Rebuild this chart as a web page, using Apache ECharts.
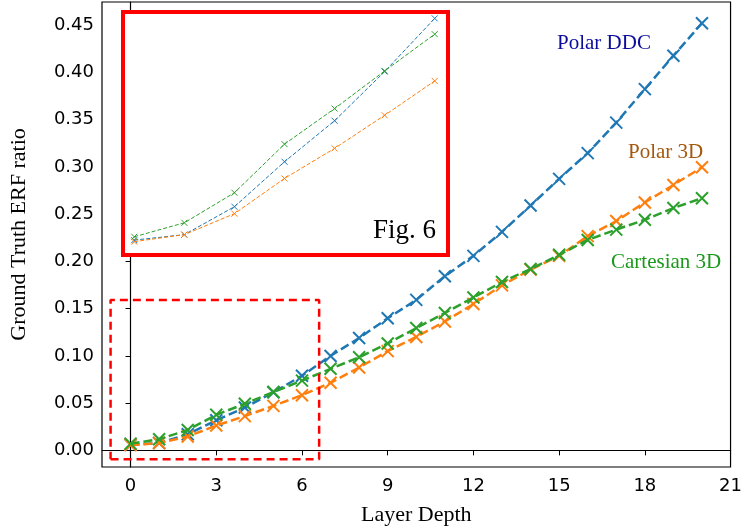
<!DOCTYPE html>
<html>
<head>
<meta charset="utf-8">
<script src="https://cdn.jsdelivr.net/npm/echarts@6/dist/echarts.min.js"></script>
<style>
  html, body { margin: 0; padding: 0; background: #fff; }
  #chart { width: 745px; height: 531px; }
</style>
</head>
<body>
<div id="chart"></div>
<script>
var layers = [0, 1, 2, 3, 4, 5, 6, 7, 8, 9, 10, 11, 12, 13, 14, 15, 16, 17, 18, 19, 20];
var polarDDC = [0.0060, 0.0078, 0.0170, 0.0318, 0.0453, 0.0615, 0.0790, 0.0999, 0.1189, 0.1398,
  0.1592, 0.1843, 0.2058, 0.2312, 0.2590, 0.2873, 0.3145, 0.3468, 0.3822, 0.4176, 0.4520];
var polar3D = [0.0055, 0.0078, 0.0147, 0.0263, 0.0362, 0.0471, 0.0584, 0.0715, 0.0877, 0.1050,
  0.1200, 0.1364, 0.1548, 0.1746, 0.1912, 0.2058, 0.2267, 0.2426, 0.2623, 0.2808, 0.2996];
var cartesian3D = [0.0071, 0.0117, 0.0216, 0.0376, 0.0493, 0.0617, 0.0738, 0.0863, 0.0985, 0.1131,
  0.1294, 0.1454, 0.1617, 0.1781, 0.1919, 0.2069, 0.2226, 0.2336, 0.2440, 0.2564, 0.2668];
var xTicks = [0, 3, 6, 9, 12, 15, 18, 21];
var yTicks = [0, 0.05, 0.1, 0.15, 0.2, 0.25, 0.3, 0.35, 0.4, 0.45];
var insetCount = 7;   // layers 0..6 shown in the inset
var zoomBox = [[-0.7, -0.0094], [6.6, -0.0094], [6.6, 0.159], [-0.7, 0.159], [-0.7, -0.0094]];

var colors = ['#1f77b4', '#ff7f0e', '#2ca02c'];
var names = ['Polar DDC', 'Polar 3D', 'Cartesian 3D'];
var values = [polarDDC, polar3D, cartesian3D];
var cross = 'path://M0 0L10 10M10 0L0 10';
var serif = '"Liberation Serif", "DejaVu Serif", serif';

function pairs(arr, n) {
  var out = [];
  for (var i = 0; i < n; i++) out.push([layers[i], arr[i]]);
  return out;
}

var series = [];
values.forEach(function (arr, k) {
  series.push({
    name: names[k], type: 'line', xAxisIndex: 0, yAxisIndex: 0,
    data: pairs(arr, layers.length),
    symbol: cross, symbolSize: 12, showSymbol: true,
    lineStyle: { color: colors[k], width: 2.5, type: [9, 4] },
    itemStyle: { color: colors[k], borderColor: colors[k], borderWidth: 2 },
    animation: false, z: 3 + k
  });
});
values.forEach(function (arr, k) {
  series.push({
    name: names[k] + ' inset', type: 'line', xAxisIndex: 1, yAxisIndex: 1,
    data: pairs(arr, insetCount),
    symbol: cross, symbolSize: 6, showSymbol: true,
    lineStyle: { color: colors[k], width: 1, type: [4, 2] },
    itemStyle: { color: colors[k], borderColor: colors[k], borderWidth: 1 },
    animation: false, z: 10 + k
  });
});
series.push({
  name: 'zoom', type: 'line', xAxisIndex: 0, yAxisIndex: 0,
  data: zoomBox, showSymbol: false, symbol: 'none',
  lineStyle: { color: '#ff0000', width: 2.5, type: [8, 5] },
  animation: false, z: 8
});

var axisLabelStyle = { color: '#000', fontSize: 18, fontFamily: 'DejaVu Sans' };

var option = {
  animation: false,
  grid: [
    { left: 100, right: 11, top: 2, bottom: 57, show: true, borderColor: '#000', borderWidth: 1.2 },
    { left: 123, top: 12, width: 325, height: 243, show: true, backgroundColor: '#fff',
      borderColor: '#ff0000', borderWidth: 4, z: 9 }
  ],
  xAxis: [
    {
      type: 'value', gridIndex: 0, min: -1, max: 21,
      name: 'Layer Depth', nameLocation: 'middle', nameGap: 37,
      nameTextStyle: { color: '#000', fontSize: 22, fontFamily: serif },
      axisLine: { show: true, lineStyle: { color: '#000', width: 1.2 } },
      axisTick: { show: true, length: 5, customValues: xTicks, lineStyle: { color: '#000' } },
      axisLabel: { customValues: xTicks, margin: 10, ...axisLabelStyle },
      splitLine: { show: false }
    },
    { type: 'value', gridIndex: 1, min: -0.225, max: 6.265, show: false, splitLine: { show: false } }
  ],
  yAxis: [
    {
      type: 'value', gridIndex: 0, min: -0.0176, max: 0.4744,
      name: 'Ground Truth ERF ratio', nameLocation: 'middle', nameGap: 72,
      nameTextStyle: { color: '#000', fontSize: 22, fontFamily: serif },
      axisLine: { show: true, lineStyle: { color: '#000', width: 1.2 } },
      axisTick: { show: true, length: 5, customValues: yTicks, lineStyle: { color: '#000' } },
      axisLabel: {
        customValues: yTicks, margin: 8, ...axisLabelStyle,
        formatter: function (v) { return v.toFixed(2); }
      },
      splitLine: { show: false }
    },
    { type: 'value', gridIndex: 1, min: 0.0011, max: 0.0811, show: false, splitLine: { show: false } }
  ],
  graphic: [
    { type: 'text', left: 557, top: 33, z: 20,
      style: { text: 'Polar DDC', fill: '#0c0c9c', fontSize: 21, fontFamily: serif } },
    { type: 'text', left: 628, top: 142, z: 20,
      style: { text: 'Polar 3D', fill: '#a4580f', fontSize: 21, fontFamily: serif } },
    { type: 'text', left: 611, top: 252, z: 20,
      style: { text: 'Cartesian 3D', fill: '#1c991c', fontSize: 21, fontFamily: serif } },
    { type: 'text', left: 373, top: 217, z: 20,
      style: { text: 'Fig. 6', fill: '#000', fontSize: 27, fontFamily: serif } }
  ],
  series: series
};

var myChart = echarts.init(document.getElementById('chart'));
myChart.setOption(option);
</script>
</body>
</html>
